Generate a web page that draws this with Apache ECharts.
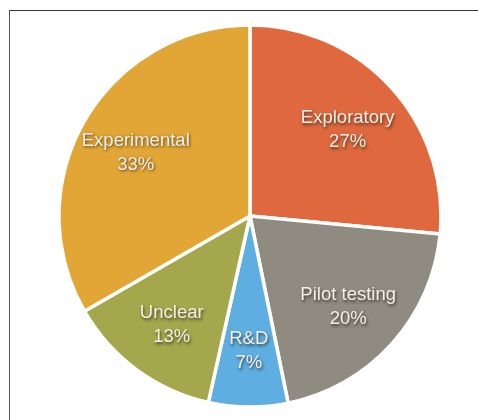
<!DOCTYPE html>
<html>
<head>
<meta charset="utf-8">
<script src="https://cdn.jsdelivr.net/npm/echarts@6/dist/echarts.min.js"></script>
<style>
  html, body { margin: 0; padding: 0; background: #fff; }
  #frame { position: absolute; left: 9px; top: 10px; width: 469px; height: 410px;
           border-top: 1.5px solid #333; border-left: 1.5px solid #555; box-sizing: border-box; }
  #chart-container { position: absolute; left: 0; top: 0; width: 478px; height: 420px; }
</style>
</head>
<body>
<div id="frame"></div>
<div id="chart-container"></div>
<script>
var categories = ['Exploratory', 'Pilot testing', 'R&D', 'Unclear', 'Experimental'];
var shares = [26.5, 20.3, 6.7, 13.2, 33.3];
var colors = ['#DF683E', '#8F8B81', '#5EAEE2', '#A4A74B', '#E2A636'];

var dom = document.getElementById('chart-container');
var myChart = echarts.init(dom, null, { renderer: 'canvas' });

var option = {
  animation: false,
  series: [
    {
      type: 'pie',
      center: [250, 216],
      radius: [0, 191],
      startAngle: 90,
      clockwise: true,
      silent: true,
      label: { show: false },
      labelLine: { show: false },
      itemStyle: { borderColor: '#fff', borderWidth: 3.5 },
      data: categories.map(function (name, i) {
        return { name: name, value: shares[i], itemStyle: { color: colors[i] } };
      })
    },
    {
      // transparent ring, only used to place the labels further out
      type: 'pie',
      center: [250, 216],
      radius: [74, 184],
      startAngle: 90,
      clockwise: true,
      silent: true,
      itemStyle: { color: 'rgba(0,0,0,0)' },
      label: {
        show: true,
        position: 'inside',
        offset: [0, 3],
        formatter: function (p) { return p.name + '\n' + Math.round(p.value) + '%'; },
        color: '#f2efe9',
        fontFamily: 'Liberation Sans, Arial, sans-serif',
        fontSize: 18.5,
        lineHeight: 24,
        textShadowColor: 'rgba(40,30,20,0.75)',
        textShadowBlur: 3,
        textShadowOffsetX: 1,
        textShadowOffsetY: 1.5
      },
      labelLine: { show: false },
      data: categories.map(function (name, i) {
        return { name: name, value: shares[i] };
      })
    }
  ]
};

myChart.setOption(option);
window.addEventListener('resize', myChart.resize);
</script>
</body>
</html>
